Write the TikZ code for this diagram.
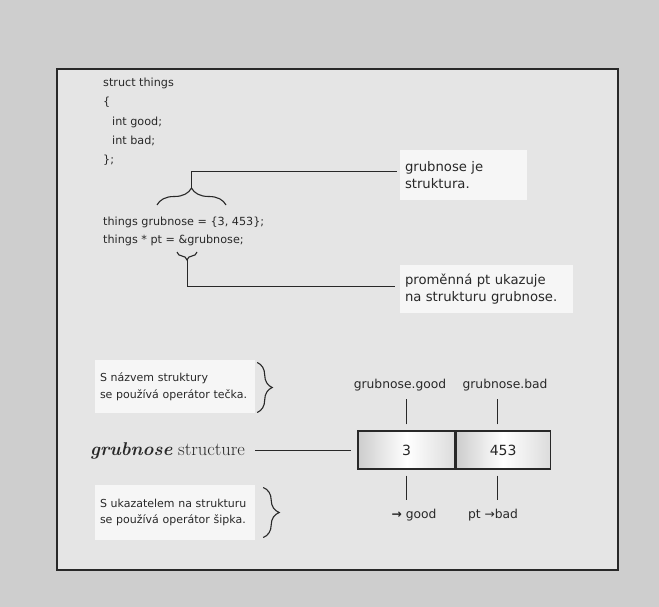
\documentclass[tikz,border=0pt]{standalone}
\usepackage{fontspec}
\newfontfamily\dv{DejaVu Sans}
\usetikzlibrary{decorations.pathreplacing,calc}

\definecolor{pagegray}{RGB}{206,206,206}
\definecolor{panel}{RGB}{229,229,229}
\definecolor{notefill}{RGB}{246,246,246}
\definecolor{ink}{RGB}{40,40,40}
\definecolor{cellshade}{RGB}{205,205,205}

\tikzset{
  codeline/.style={anchor=west, inner sep=0pt, text=ink,
    font=\dv\fontsize{11.2}{13}\selectfont},
  bignote/.style={fill=notefill, draw=none, inner sep=5pt, align=left, text=ink,
    font=\dv\fontsize{13.2}{17}\selectfont},
  smallnote/.style={fill=notefill, draw=none, inner sep=5pt, align=left, text=ink,
    font=\dv\fontsize{11}{16.5}\selectfont},
  fieldlabel/.style={inner sep=0pt, text=ink, font=\dv\fontsize{12.3}{14}\selectfont},
  cellbox/.style={draw=ink, line width=1.2pt, minimum height=38pt,
    left color=cellshade, right color=cellshade!70, middle color=white,
    text=ink, font=\dv\fontsize{14}{16}\selectfont},
  wire/.style={draw=ink, line width=0.8pt},
  curly/.style={draw=ink, line width=1.1pt, decorate, decoration={brace, amplitude=#1}},
  frame/.style={draw=ink, line width=1.8pt}
}

\begin{document}
\begin{tikzpicture}[x=1pt, y=-1pt]
  \useasboundingbox (0,0) rectangle (659,607);
  \fill[pagegray] (0,0) rectangle (659,607);
  \draw[frame, fill=panel] (57,69) rectangle (618,570);

  % structure declaration
  \node[codeline] (l1) at (103,83)  {struct things};
  \node[codeline] (l2) at (103,102) {\{};
  \node[codeline] (l3) at (112,122) {int good;};
  \node[codeline] (l4) at (112,141) {int bad;};
  \node[codeline] (l5) at (103,160) {\};};
  \node[codeline] (l6) at (103,222) {things grubnose = \{3, 453\};};
  \node[codeline] (l7) at (103,240) {things * pt = \&grubnose;};

  % braces over the code
  \coordinate (b1a) at (157,205);
  \coordinate (b1b) at (226,205);
  \draw[curly=17pt] (b1a) -- (b1b);
  \coordinate (tip1) at (191.5,188);
  \coordinate (b2a) at (197,252);
  \coordinate (b2b) at (177,252);
  \draw[curly=8pt] (b2a) -- (b2b);
  \coordinate (tip2) at (187,260);

  % notes on the right
  \node[bignote, minimum width=127pt, minimum height=50pt, text width=117pt]
    (note1) at (463.5,175) {grubnose je\\struktura.};
  \node[bignote, minimum width=173pt, minimum height=48pt, text width=163pt]
    (note2) at (486.5,289) {proměnná pt ukazuje\\na strukturu grubnose.};

  \coordinate (k1) at (191.5,171);
  \coordinate (k2) at (187,286);
  \draw[wire] (tip1) -- (k1) -- ([xshift=-3pt]k1 -| note1.west);
  \draw[wire] (tip2) -- (k2) -- ([xshift=-5pt]k2 -| note2.west);

  % the structure in memory
  \node[cellbox, minimum width=97pt] (cell3) at (406.5,450) {3};
  \node[cellbox, minimum width=94pt, anchor=west] (cell453) at (cell3.east) {453};

  \node[fieldlabel] (fgood) at (400,385) {grubnose.good};
  \node[fieldlabel] (fbad)  at (505,385) {grubnose.bad};
  \draw[wire] ([yshift=6pt]cell3.north) -- ([yshift=31pt]cell3.north);
  \draw[wire] ([xshift=-6pt,yshift=6pt]cell453.north) -- ([xshift=-6pt,yshift=31pt]cell453.north);
  \draw[wire] ([yshift=-6pt]cell3.south) -- ([yshift=-30pt]cell3.south);
  \draw[wire] ([xshift=-6pt,yshift=-6pt]cell453.south) -- ([xshift=-6pt,yshift=-30pt]cell453.south);

  \node[fieldlabel] (agood) at (414,515) {{\bfseries →} good};
  \node[fieldlabel] (abad)  at (493,515) {pt →bad};

  \node[anchor=west, inner sep=0pt, text=ink, font=\fontsize{18.5}{20}\selectfont]
    (gs) at (90,451) {\textbf{\textit{grubnose}} structure};
  \draw[wire] ([xshift=10pt]gs.east |- cell3.west) -- ([xshift=-6pt]cell3.west);

  % notes on the left
  \node[smallnote, minimum width=160pt, minimum height=53pt, text width=150pt]
    (note3) at (175,386.5) {S názvem struktury\\se používá operátor tečka.};
  \node[smallnote, minimum width=160pt, minimum height=55pt, text width=150pt]
    (note4) at (175,512.5) {S ukazatelem na strukturu\\se používá operátor šipka.};
  \draw[curly=15pt] ([xshift=2pt,yshift=24pt]note3.east) -- ([xshift=2pt,yshift=-26pt]note3.east);
  \draw[curly=16pt] ([xshift=8pt,yshift=25pt]note4.east) -- ([xshift=8pt,yshift=-25pt]note4.east);
\end{tikzpicture}
\end{document}
